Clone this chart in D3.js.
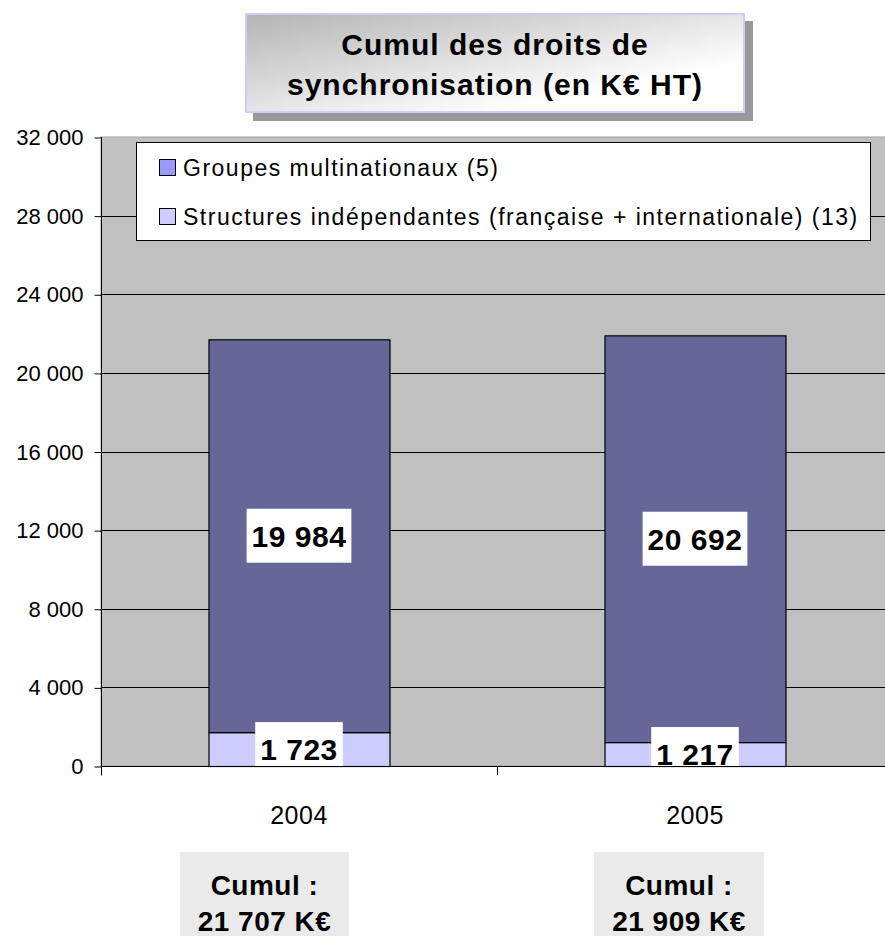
<!DOCTYPE html>
<html><head><meta charset="utf-8">
<script src="https://cdnjs.cloudflare.com/ajax/libs/d3/7.8.5/d3.min.js"></script>
<style>
html,body{margin:0;padding:0;background:#fff;}
svg{display:block;font-family:"Liberation Sans",Arial,sans-serif;}
</style></head>
<body>
<svg id="chart" width="885" height="946"></svg>
<script>
const categories = ["2004", "2005"];
const multinationaux = [19984, 20692];
const independantes = [1723, 1217];
const seriesNames = ["Groupes multinationaux (5)", "Structures indépendantes (française + internationale) (13)"];
const yTicks = [0, 4000, 8000, 12000, 16000, 20000, 24000, 28000, 32000];
const titleLines = ["Cumul des droits de", "synchronisation (en K€ HT)"];

(function () {
const loc = d3.formatLocale({decimal: ",", thousands: " ", grouping: [3], currency: ["", " K€"]});
const fmt = loc.format(",d");

const svg = d3.select("#chart");
const pLeft = 101, pRight = 893, pTop = 137, pBottom = 766;

const x = d3.scaleBand().domain(categories).range([pLeft, pRight]).paddingInner(0.543).paddingOuter(0.2715);
const y = d3.scaleLinear().domain([0, 32000]).range([pBottom, pTop]);

// plot background
svg.append("rect").attr("x", pLeft).attr("y", pTop).attr("width", pRight - pLeft).attr("height", pBottom - pTop)
  .attr("fill", "#c0c0c0").attr("stroke", "#a0a0a0");

// gridlines
svg.append("g").selectAll("line").data(yTicks.filter(d => d > 0 && d < 32000)).join("line")
  .attr("x1", pLeft).attr("x2", pRight)
  .attr("y1", d => Math.round(y(d)) + 0.5).attr("y2", d => Math.round(y(d)) + 0.5)
  .attr("stroke", "#000").attr("stroke-width", 1);

// stacked bars
const stackData = categories.map((c, i) => ({cat: c, ind: independantes[i], multi: multinationaux[i]}));
const stack = d3.stack().keys(["ind", "multi"]);
const layers = stack(stackData);
const fills = {ind: "#ccccff", multi: "#666699"};
const legendFills = ["#9999ff", "#ccccff"];

const gBars = svg.append("g");
layers.forEach(layer => {
  gBars.selectAll(null).data(layer).join("rect")
    .attr("x", d => x(d.data.cat) + 0.5)
    .attr("y", d => y(d[1]) + 0.5)
    .attr("width", x.bandwidth())
    .attr("height", d => y(d[0]) - y(d[1]))
    .attr("fill", fills[layer.key])
    .attr("stroke", "#000").attr("stroke-width", 1.2);
});

// clip for labels
svg.append("clipPath").attr("id", "plotclip").append("rect")
  .attr("x", pLeft).attr("y", pTop).attr("width", pRight - pLeft).attr("height", pBottom - pTop);

const gLab = svg.append("g").attr("clip-path", "url(#plotclip)");
layers.forEach(layer => {
  layer.forEach(d => {
    const cx = x(d.data.cat) + x.bandwidth() / 2;
    const cy = (y(d[0]) + y(d[1])) / 2;
    const g = gLab.append("g");
    const bg = g.append("rect").attr("fill", "#fff");
    const t = g.append("text").attr("x", cx).attr("y", cy).attr("dy", "0.36em")
      .attr("text-anchor", "middle").attr("font-size", 30).attr("letter-spacing", 0.5).attr("font-weight", "bold")
      .attr("fill", "#000").text(fmt(d[1] - d[0]));
    const bb = t.node().getBBox();
    bg.attr("x", bb.x - 5).attr("y", cy - 27).attr("width", bb.width + 10).attr("height", 54);
  });
});

// y axis
const yAxis = d3.axisLeft(y).tickValues(yTicks).tickSize(7).tickPadding(11).tickFormat(d => fmt(d));
const ga = svg.append("g").attr("transform", `translate(${pLeft + 0.5},0.5)`).call(yAxis);
ga.select(".domain").attr("stroke", "#000").attr("d", `M0,${pTop - 0.5}V${pBottom + 9}`);
ga.selectAll(".tick line").attr("stroke", "#000");
ga.selectAll(".tick text").attr("font-size", 22).attr("font-family", "Liberation Sans, Arial, sans-serif").attr("fill", "#000");

// x axis
svg.append("line").attr("x1", pLeft).attr("x2", pRight).attr("y1", pBottom + 0.5).attr("y2", pBottom + 0.5).attr("stroke", "#000");
const boundaries = [pLeft + x.step()];
svg.append("g").selectAll("line").data(boundaries).join("line")
  .attr("x1", d => Math.round(d) + 0.5).attr("x2", d => Math.round(d) + 0.5)
  .attr("y1", pBottom).attr("y2", pBottom + 9).attr("stroke", "#000");
svg.append("g").selectAll("text").data(categories).join("text")
  .attr("x", d => x(d) + x.bandwidth() / 2).attr("y", 824)
  .attr("text-anchor", "middle").attr("font-size", 25).attr("letter-spacing", 0.5).attr("fill", "#000").text(d => d);

// legend
const lg = svg.append("g");
lg.append("rect").attr("x", 136.5).attr("y", 142.5).attr("width", 734).attr("height", 98)
  .attr("fill", "#fff").attr("stroke", "#000");
seriesNames.forEach((s, i) => {
  lg.append("rect").attr("x", 159.5).attr("y", 159.5 + i * 49).attr("width", 16).attr("height", 16)
    .attr("fill", legendFills[i]).attr("stroke", "#000");
  lg.append("text").attr("x", 183).attr("y", 175.5 + i * 49).attr("font-size", 23).attr("letter-spacing", 1.5)
    .attr("fill", "#000").text(s);
});

// title box
const defs = svg.append("defs");
const grad = defs.append("linearGradient").attr("id", "tgrad").attr("x1", 0).attr("y1", 0).attr("x2", 1).attr("y2", 1);
grad.append("stop").attr("offset", "0%").attr("stop-color", "#b4b4b4");
grad.append("stop").attr("offset", "75%").attr("stop-color", "#ffffff");
grad.append("stop").attr("offset", "100%").attr("stop-color", "#ffffff");
svg.append("rect").attr("x", 253).attr("y", 21).attr("width", 500).attr("height", 100).attr("fill", "#999999");
svg.append("rect").attr("x", 246).attr("y", 14).attr("width", 498).attr("height", 98)
  .attr("fill", "url(#tgrad)").attr("stroke", "#ccccff").attr("stroke-width", 2);
svg.append("g").selectAll("text").data(titleLines).join("text")
  .attr("x", 495).attr("y", (d, i) => 55 + i * 40).attr("text-anchor", "middle")
  .attr("font-size", 30).attr("letter-spacing", 1).attr("font-weight", "bold").attr("fill", "#000").text(d => d);

// cumul boxes
const totals = categories.map((c, i) => multinationaux[i] + independantes[i]);
const cumulBoxes = [{x: 180, w: 169}, {x: 594, w: 170}];
totals.forEach((tv, i) => {
  const b = cumulBoxes[i];
  svg.append("rect").attr("x", b.x).attr("y", 852).attr("width", b.w).attr("height", 84).attr("fill", "#eaeaea");
  const cx = b.x + b.w / 2;
  svg.append("text").attr("x", cx).attr("y", 895).attr("text-anchor", "middle")
    .attr("font-size", 28).attr("letter-spacing", 0.5).attr("font-weight", "bold").text("Cumul :");
  svg.append("text").attr("x", cx).attr("y", 931).attr("text-anchor", "middle")
    .attr("font-size", 28).attr("letter-spacing", 0.5).attr("font-weight", "bold").text(fmt(tv) + " K€");
});
})();
</script>
</body></html>
